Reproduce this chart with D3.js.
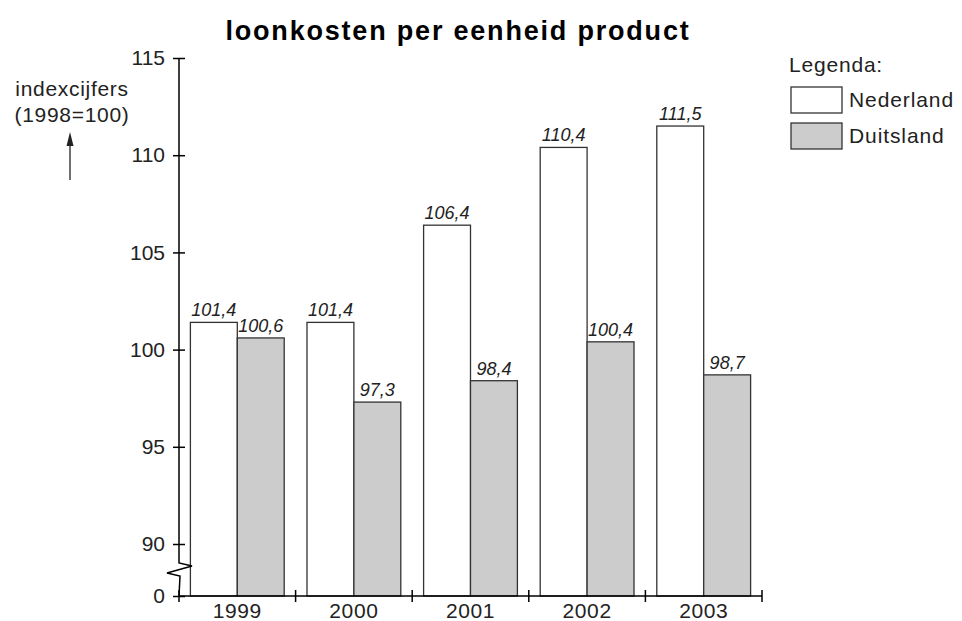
<!DOCTYPE html>
<html>
<head>
<meta charset="utf-8">
<script src="https://cdn.jsdelivr.net/npm/d3@7"></script>
<style>
  body { margin: 0; background: #fff; }
  svg { display: block; font-family: "Liberation Sans", Arial, sans-serif; }
</style>
</head>
<body>
<div id="chart"></div>
<script>
// data
const years = ["1999", "2000", "2001", "2002", "2003"];
const series = ["Nederland", "Duitsland"];
const nederland = [101.4, 101.4, 106.4, 110.4, 111.5];
const duitsland = [100.6, 97.3, 98.4, 100.4, 98.7];
const yTicks = [0, 90, 95, 100, 105, 110, 115];

const width = 962, height = 621;
const colors = { Nederland: "#ffffff", Duitsland: "#cccccc" };

const svg = d3.select("#chart").append("svg")
    .attr("width", width)
    .attr("height", height);

// broken axis: 0 sits just below 90
const y = d3.scaleLinear()
    .domain([0, 90, 115])
    .range([596, 544, 58]);

const x = d3.scaleBand()
    .domain(years)
    .range([179, 762])
    .padding(0);

const xs = d3.scaleBand()
    .domain(series)
    .range([0, x.bandwidth()])
    .paddingInner(0)
    .paddingOuter(0.243);

const rows = years.map((yr, i) => ({
  year: yr,
  values: [
    {key: "Nederland", value: nederland[i]},
    {key: "Duitsland", value: duitsland[i]}
  ]
}));

// title
svg.append("text")
    .attr("x", 458)
    .attr("y", 40)
    .attr("text-anchor", "middle")
    .style("font-size", "27px")
    .style("font-weight", "bold")
    .style("letter-spacing", "1.8px")
    .text("loonkosten per eenheid product");

// bars
const groups = svg.append("g").selectAll("g")
    .data(rows)
    .enter().append("g")
    .attr("transform", d => "translate(" + x(d.year) + ",0)");

groups.selectAll("rect")
    .data(d => d.values)
    .enter().append("rect")
    .attr("x", d => xs(d.key))
    .attr("y", d => y(d.value))
    .attr("width", xs.bandwidth())
    .attr("height", d => y(0) - y(d.value))
    .attr("fill", d => colors[d.key])
    .attr("stroke", "#333")
    .attr("stroke-width", 1.3);

groups.selectAll("text")
    .data(d => d.values)
    .enter().append("text")
    .attr("x", d => xs(d.key) + xs.bandwidth() / 2)
    .attr("y", d => y(d.value) - 6)
    .attr("text-anchor", "middle")
    .style("font-size", "18px")
    .style("font-style", "italic")
    .style("fill", "#222")
    .text(d => d3.format(".1f")(d.value).replace(".", ","));

// y axis
const yAxis = svg.append("g")
    .attr("transform", "translate(179,0)")
    .call(d3.axisLeft(y).tickValues(yTicks).tickSize(6).tickPadding(8).tickFormat(d3.format("d")));
yAxis.select(".domain").remove();
yAxis.selectAll(".tick line").attr("x1", 6).attr("stroke", "#000").attr("stroke-width", 1.5);
yAxis.selectAll(".tick text").style("font-size", "21px").style("fill", "#222").attr("font-family", null);

// axis line with break
svg.append("path")
    .attr("d", "M179," + y(115) + "L179,563L192,566L167,573L180,576L179," + y(0))
    .attr("fill", "none")
    .attr("stroke", "#000")
    .attr("stroke-width", 1.5);

// x axis
svg.append("line")
    .attr("x1", 179).attr("x2", 762)
    .attr("y1", y(0)).attr("y2", y(0))
    .attr("stroke", "#000").attr("stroke-width", 1.5);

const xAxis = svg.append("g")
    .attr("transform", "translate(0," + y(0) + ")")
    .call(d3.axisBottom(x).tickSize(0).tickPadding(7));
xAxis.select(".domain").remove();
xAxis.selectAll(".tick text").style("font-size", "21px").style("letter-spacing", "0.6px").style("fill", "#222").attr("font-family", null);

svg.append("g").selectAll("line")
    .data(years.map(d => x(d)).concat([x.range()[1]]))
    .enter().append("line")
    .attr("x1", d => d).attr("x2", d => d)
    .attr("y1", y(0) - 6).attr("y2", y(0) + 6)
    .attr("stroke", "#000").attr("stroke-width", 1.5);

// y label
const ylab = svg.append("text")
    .attr("text-anchor", "middle")
    .style("font-size", "21px")
    .style("letter-spacing", "0.7px")
    .style("fill", "#222");
ylab.append("tspan").attr("x", 72).attr("y", 96).text("indexcijfers");
ylab.append("tspan").attr("x", 72).attr("y", 122).text("(1998=100)");

svg.append("line")
    .attr("x1", 70).attr("x2", 70)
    .attr("y1", 180).attr("y2", 142)
    .attr("stroke", "#222").attr("stroke-width", 1.3);
svg.append("path")
    .attr("d", "M70,132L73.5,146L66.5,146Z")
    .attr("fill", "#222");

// legend
svg.append("text")
    .attr("x", 789).attr("y", 72)
    .style("font-size", "21px")
    .style("letter-spacing", "0.8px")
    .style("fill", "#222")
    .text("Legenda:");

const legend = svg.append("g").selectAll("g")
    .data(series)
    .enter().append("g")
    .attr("transform", (d, i) => "translate(791," + (87 + i * 36) + ")");

legend.append("rect")
    .attr("width", 51).attr("height", 26)
    .attr("fill", d => colors[d])
    .attr("stroke", "#333").attr("stroke-width", 1.3);

legend.append("text")
    .attr("x", 58).attr("y", 20)
    .style("font-size", "21px")
    .style("letter-spacing", "0.9px")
    .style("fill", "#222")
    .text(d => d);
</script>
</body>
</html>
